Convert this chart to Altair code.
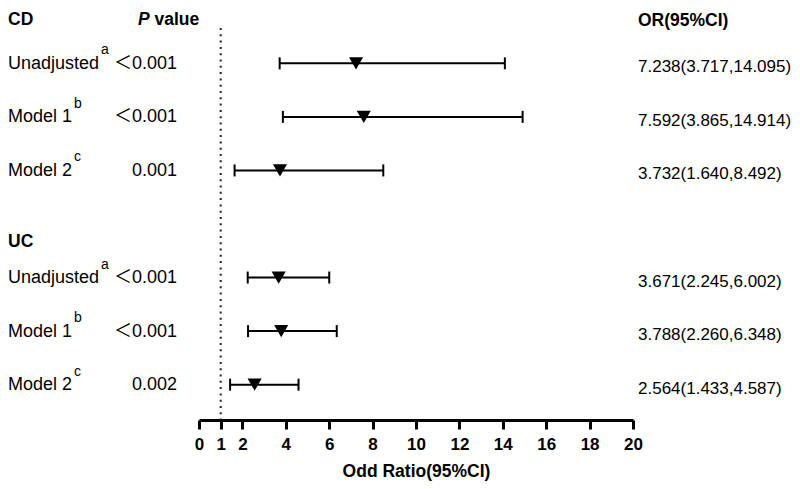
import altair as alt
import pandas as pd

# ---- data ----
groups = ["CD", "CD", "CD", "UC", "UC", "UC"]
labels = ["Unadjusted", "Model 1", "Model 2", "Unadjusted", "Model 1", "Model 2"]
sups = ["a", "b", "c", "a", "b", "c"]
pvals = ["＜0.001", "＜0.001", "0.001", "＜0.001", "＜0.001", "0.002"]
odds = [7.238, 7.592, 3.732, 3.671, 3.788, 2.564]
lows = [3.717, 3.865, 1.640, 2.245, 2.260, 1.433]
highs = [14.095, 14.914, 8.492, 6.002, 6.348, 4.587]
rows = [1, 2, 3, 5, 6, 7]
header_labels = ["CD", "UC"]
header_rows = [0.17, 4.31]
x_ticks = [0, 1, 2, 4, 6, 8, 10, 12, 14, 16, 18, 20]

df = pd.DataFrame({
    "group": groups, "label": labels, "sup": sups, "p": pvals,
    "or": odds, "lo": lows, "hi": highs, "row": rows,
})
df["ci_text"] = [f"{o:.3f}({l:.3f},{h:.3f})" for o, l, h in zip(odds, lows, highs)]
hdf = pd.DataFrame({"label": header_labels, "row": header_rows})
refdf = pd.DataFrame({"ref": [1]})

FONT = "Liberation Sans, Arial, Noto Sans CJK SC, sans-serif"
TITLE = "Odd Ratio(95%CI)"

xscale = alt.Scale(domain=[0, 20], nice=False, zero=False)
xaxis = alt.Axis(values=x_ticks, title=TITLE, grid=False, labelFlush=False,
                 labelOverlap=False, format="d")
yscale = alt.Scale(domain=[0.34, 7.66], reverse=True, nice=False, zero=False)
Y = alt.Y("row:Q", scale=yscale, axis=None)

base = alt.Chart(df)

ci = base.mark_rule(color="black", strokeWidth=2).encode(
    x=alt.X("lo:Q", scale=xscale, axis=xaxis, title=TITLE),
    x2="hi:Q",
    y=Y,
)
cap_lo = base.mark_rule(color="black", strokeWidth=2, yOffset=-6, y2Offset=6).encode(
    x=alt.X("lo:Q", scale=xscale, axis=xaxis, title=TITLE), y=Y, y2="row:Q"
)
cap_hi = base.mark_rule(color="black", strokeWidth=2, yOffset=-6, y2Offset=6).encode(
    x=alt.X("hi:Q", scale=xscale, axis=xaxis, title=TITLE), y=Y, y2="row:Q"
)
pts = base.mark_point(shape="triangle-down", filled=True, size=200,
                      color="black", opacity=1).encode(
    x=alt.X("or:Q", scale=xscale, axis=xaxis, title=TITLE), y=Y
)
refline = alt.Chart(refdf).mark_rule(color="#222222", strokeWidth=2,
                                     strokeDash=[2, 4.3]).encode(
    x=alt.X("ref:Q", scale=xscale, axis=xaxis, title=TITLE)
)

txt_kw = dict(font=FONT, fontSize=18, color="black", baseline="alphabetic")

row_labels = base.mark_text(align="left", dy=5.5, **txt_kw).encode(
    x=alt.value(-191), y=Y, text="label:N"
)
sup_unadj = base.transform_filter(alt.datum.label == "Unadjusted").mark_text(
    align="left", dy=-9, font=FONT, fontSize=14, color="black", baseline="alphabetic"
).encode(x=alt.value(-98), y=Y, text="sup:N")
sup_model = base.transform_filter(alt.datum.label != "Unadjusted").mark_text(
    align="left", dy=-9, font=FONT, fontSize=14, color="black", baseline="alphabetic"
).encode(x=alt.value(-125), y=Y, text="sup:N")
p_text = base.mark_text(align="right", dy=5.5, **txt_kw).encode(
    x=alt.value(-22), y=Y, text="p:N"
)
or_text = base.mark_text(align="left", dy=9, font=FONT, fontSize=17,
                         color="black", baseline="alphabetic").encode(
    x=alt.value(439), y=Y, text="ci_text:N"
)

hbase = alt.Chart(hdf)
head_kw = dict(font=FONT, fontSize=17.5, fontWeight="bold", color="black",
               baseline="alphabetic")
head_txt = hbase.mark_text(align="left", dy=6, **head_kw).encode(
    x=alt.value(-191), y=Y, text="label:N"
)
hcd = hbase.transform_filter(alt.datum.label == "CD")
p_head_p = hcd.mark_text(align="left", dy=6, fontStyle="italic", **head_kw).encode(
    x=alt.value(-61), y=Y, text=alt.value("P")
)
p_head_v = hcd.mark_text(align="left", dy=6, **head_kw).encode(
    x=alt.value(-44.5), y=Y, text=alt.value("value")
)
or_head = hcd.mark_text(align="left", dy=7, **head_kw).encode(
    x=alt.value(439), y=Y, text=alt.value("OR(95%CI)")
)

chart = alt.layer(
    refline, ci, cap_lo, cap_hi, pts,
    row_labels, sup_unadj, sup_model, p_text, or_text,
    head_txt, p_head_p, p_head_v, or_head,
).properties(
    width=434, height=392,
    padding={"left": 191, "top": 20, "right": 158, "bottom": 61},
    autosize=alt.AutoSizeParams(type="none"),
).configure_view(stroke=None).configure_axis(
    domainColor="black", domainWidth=3, tickColor="black", tickWidth=3, tickSize=9,
    labelFont=FONT, labelFontSize=17, labelFontWeight="bold", labelColor="black",
    labelPadding=7, titleFont=FONT, titleFontSize=17.5, titleFontWeight="bold",
    titleColor="black", titlePadding=10,
)

chart.save("out.html", embed_options={"renderer": "svg", "actions": False})
